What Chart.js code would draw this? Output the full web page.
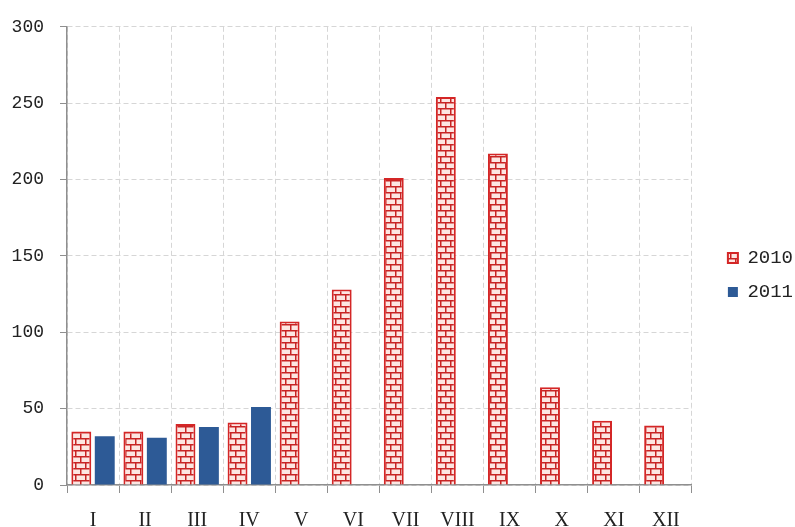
<!DOCTYPE html>
<html>
<head>
<meta charset="utf-8">
<script src="https://cdn.jsdelivr.net/npm/chart.js@4"></script>
<style>
html,body{margin:0;padding:0;background:#fff;}
canvas{display:block;}
</style>
</head>
<body>
<canvas id="c" width="795" height="527"></canvas>
<script>
const categories = ['I','II','III','IV','V','VI','VII','VIII','IX','X','XI','XII'];
const values2010 = [35, 35, 40, 41, 107, 128, 201, 254, 217, 64, 42, 39];
const values2011 = [32, 31, 38, 51, null, null, null, null, null, null, null, null];
const yTicks = [0, 50, 100, 150, 200, 250, 300];

function brickPattern() {
  const c = document.createElement('canvas');
  c.width = 20; c.height = 12;
  const g = c.getContext('2d');
  g.fillStyle = '#fde6e2';
  g.fillRect(0, 0, 20, 12);
  g.fillStyle = '#c82424';
  g.fillRect(0, 0, 20, 1.5);
  g.fillRect(0, 6, 20, 1.5);
  g.fillRect(0, 0, 1.5, 6);
  g.fillRect(10, 0, 1.5, 6);
  g.fillRect(5, 6, 1.5, 6);
  g.fillRect(15, 6, 1.5, 6);
  return g.createPattern(c, 'repeat');
}

const gridColor = '#d6d6d6';
const axisColor = '#8f8f8f';

const legendShift = {
  id: 'legendShift',
  afterLayout(chart) {
    const lg = chart.legend;
    if (lg) { lg.left += 8; lg.right += 8; }
  }
};

new Chart(document.getElementById('c'), {
  type: 'bar',
  data: {
    labels: categories,
    datasets: [
      {
        label: '2010',
        data: values2010,
        backgroundColor: brickPattern(),
        borderColor: '#d42626',
        borderWidth: 2,
        categoryPercentage: 0.9,
        barPercentage: 0.85
      },
      {
        label: '2011',
        data: values2011,
        backgroundColor: '#2d5a96',
        borderColor: '#2d5a96',
        borderWidth: 0,
        categoryPercentage: 0.9,
        barPercentage: 0.85
      }
    ]
  },
  plugins: [legendShift],
  options: {
    responsive: false,
    animation: false,
    devicePixelRatio: 1,
    layout: { padding: { top: 23, right: 0, bottom: 0, left: 0 } },
    plugins: {
      legend: {
        position: 'right',
        labels: {
          boxWidth: 10,
          boxHeight: 10,
          padding: 15,
          color: '#222',
          font: { family: 'Liberation Mono', size: 19 }
        }
      },
      tooltip: { enabled: false }
    },
    scales: {
      x: {
        grid: {
          color: gridColor,
          tickColor: axisColor,
          tickLength: 8,
          tickBorderDash: [],
          offset: true
        },
        border: { color: axisColor, width: 1.5, dash: [5, 3] },
        ticks: {
          color: '#222',
          padding: 16,
          font: { family: 'Liberation Serif', size: 20 }
        },
        afterFit: s => { s.height = 42; }
      },
      y: {
        min: 0,
        max: 300,
        afterBuildTicks: s => { s.ticks = yTicks.map(v => ({ value: v })); },
        grid: {
          color: gridColor,
          tickColor: axisColor,
          tickLength: 7,
          tickBorderDash: []
        },
        border: { color: axisColor, width: 1.5, dash: [5, 3] },
        ticks: {
          color: '#222',
          padding: 16,
          font: { family: 'Liberation Mono', size: 18 }
        },
        afterFit: s => { s.width = 67; }
      },
      gap: {
        type: 'linear',
        axis: 'y',
        position: 'right',
        grid: { display: false },
        border: { display: false },
        ticks: { display: false },
        afterFit: s => { s.width = 13; }
      }
    }
  }
});
</script>
</body>
</html>
